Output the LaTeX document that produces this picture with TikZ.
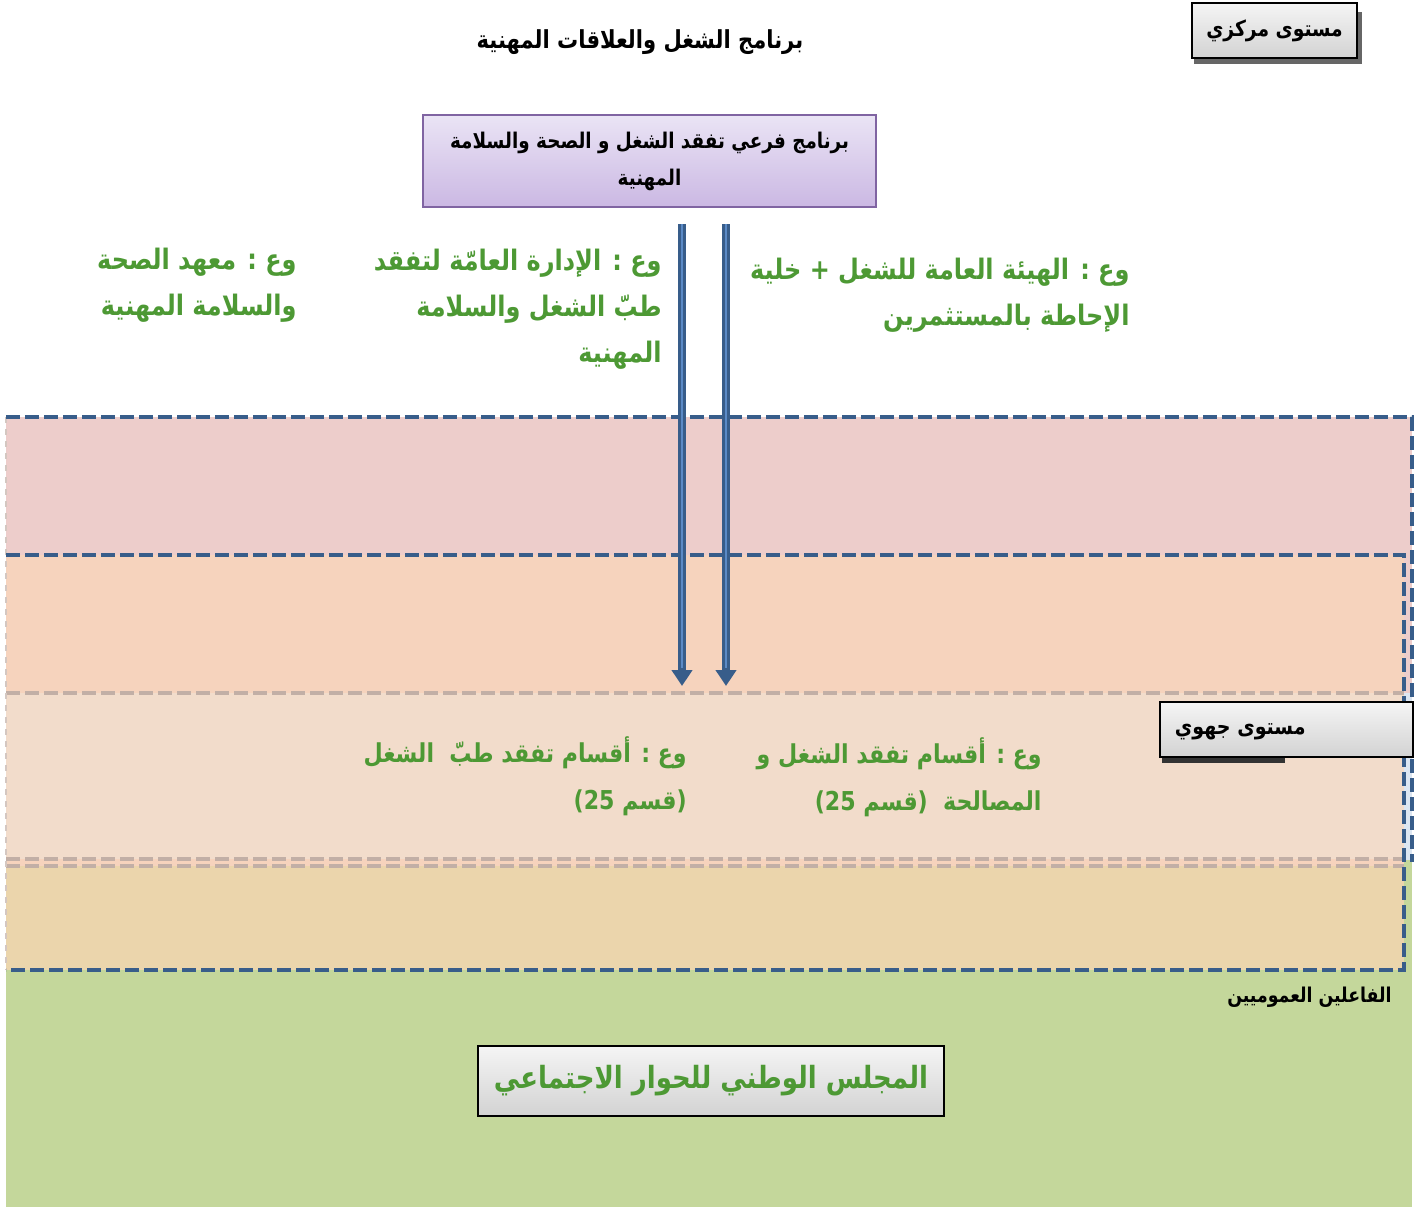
\documentclass[tikz,border=0pt]{standalone}
\usepackage{fontspec}
\TeXXeTstate=1
\newfontfamily\arabicfont[Script=Arabic, FakeStretch=0.85]{DejaVu Sans}
\newfontfamily\latinfont[FakeStretch=0.85]{DejaVu Sans}
\usetikzlibrary{positioning, backgrounds, arrows.meta}

\definecolor{bandblue}{HTML}{385D8A}
\definecolor{bandgray}{HTML}{C2AFA6}
\definecolor{arrlight}{HTML}{5B8AC6}
\definecolor{txtgreen}{HTML}{4D9934}
\definecolor{subpurple}{HTML}{8064A2}
\definecolor{subtop}{HTML}{EAE4F5}
\definecolor{subbottom}{HTML}{CBB8E3}
\definecolor{pinkband}{HTML}{EDCDCB}
\definecolor{orangeband}{HTML}{F6D3BD}
\definecolor{peachband}{HTML}{F2DCCB}
\definecolor{tanband}{HTML}{EBD5AC}
\definecolor{greenband}{HTML}{C4D79B}
\definecolor{blueband}{HTML}{DCE6F2}

\begin{document}
\begin{tikzpicture}[x=0.5pt, y=-0.5pt, font=\arabicfont\bfseries,
	band/.style={dashed, dash pattern=on 7pt off 2.5pt, line width=2pt},
	lvlbox/.style={draw=black, line width=0.8pt, top color=gray!8, bottom color=gray!35, inner sep=0pt},
	grntxt/.style={text=txtgreen, align=right, inner sep=0pt, font=\arabicfont\bfseries\fontsize{14.1}{23}\selectfont},
	regtxt/.style={grntxt, font=\arabicfont\bfseries\fontsize{13}{23.5}\selectfont},
	downarr/.style={draw=bandblue, line width=4pt, -{Triangle[width=10pt,length=8pt]}},
	arrcore/.style={draw=arrlight, line width=1pt, shorten >=9pt}]
	\useasboundingbox (0,0) rectangle (1419,1207);
	
	% bands
	\fill[pinkband] (6,417) rectangle (1412,700);
	\fill[blueband] (6,693) rectangle (1412,862);
	\fill[greenband] (6,860) rectangle (1412,1207);
	\fill[orangeband] (6,555) rectangle (1404,970);
	\fill[peachband] (6,693) rectangle (1404,859);
	\fill[tanband] (6,866) rectangle (1404,970);
	\draw[band, bandgray] (6,693) -- (1404,693);
	\draw[band, bandgray] (6,859) -- (1404,859);
	\draw[band, bandgray] (6,866) -- (1404,866);
	\draw[bandgray!70, dashed, line width=0.6pt] (6,417) -- (6,970);
	\draw[band, bandblue] (6,417) -- (1412,417) -- (1412,862);
	\draw[band, bandblue] (6,555) -- (1404,555) -- (1404,970) -- (6,970);
	
	\node (title) at (640,42) {\fontsize{12.4}{14}\selectfont\beginR برنامج الشغل والعلاقات المهنية\endR};
	
	\fill[black!60] (1194,12) rectangle (1362,64);
	\node[lvlbox, minimum width=82.5pt, minimum height=27.5pt, font=\arabicfont\bfseries\fontsize{11}{13}\selectfont] (central) at (1274.5,30.5) {\beginR مستوى مركزي\endR};
	
	\node[draw=subpurple, line width=1pt, top color=subtop, bottom color=subbottom, minimum width=226.5pt, minimum height=46pt, align=center, inner sep=0pt, font=\arabicfont\bfseries\fontsize{10.8}{18.5}\selectfont] (sub) at (649.5,161) {\beginR برنامج فرعي تفقد الشغل و الصحة والسلامة\endR\\\beginR المهنية\endR};
	
	\node[grntxt, anchor=east] (genauth) at (1130,295) {\beginR وع : الهيئة العامة للشغل + خلية\endR\\\beginR الإحاطة بالمستثمرين\endR};
	\node[grntxt, anchor=east] (gendir) at (662,309) {\beginR وع : الإدارة العامّة لتفقد\endR\\\beginR طبّ الشغل والسلامة\endR\\\beginR المهنية\endR};
	\node[grntxt, anchor=east] (inst) at (297,285) {\beginR وع : معهد الصحة\endR\\\beginR والسلامة المهنية\endR};
	
	% arrows
	\coordinate (a1) at (682,224);
	\coordinate (b1) at (682,686);
	\coordinate (a2) at (726,224);
	\coordinate (b2) at (726,686);
	\draw[downarr] (a1) -- (b1);
	\draw[downarr] (a2) -- (b2);
	\draw[arrcore] (a1) -- (b1);
	\draw[arrcore] (a2) -- (b2);
	
	\fill[black!80] (1162,712) rectangle (1285,763);
	\node[lvlbox, minimum width=126.5pt, minimum height=27.5pt] (regional) at (1286.5,729.5) {};
	\node[anchor=east, inner sep=0pt, font=\arabicfont\bfseries\fontsize{11.2}{13}\selectfont] (regname) at (1306,732) {\beginR مستوى جهوي\endR};
	
	\node[regtxt, anchor=east] (medsec) at (687,776) {\beginR وع : أقسام تفقد طبّ\ \ الشغل\endR\\{\latinfont (25 }قسم{\latinfont )}};
	\node[regtxt, anchor=east] (labsec) at (1042,777) {\beginR وع : أقسام تفقد الشغل و\endR\\{\latinfont (25 }قسم{\latinfont )}\ \ المصالحة};
	
	\node[anchor=east, inner sep=0pt, font=\arabicfont\bfseries\fontsize{10.2}{12}\selectfont] (actors) at (1392,997) {\beginR الفاعلين العموميين\endR};
	
	\node[lvlbox, minimum width=233pt, minimum height=35pt, text=txtgreen, font=\arabicfont\bfseries\fontsize{15.3}{18}\selectfont] (council) at (711,1081) {\beginR المجلس الوطني للحوار الاجتماعي\endR};
\end{tikzpicture}
\end{document}
